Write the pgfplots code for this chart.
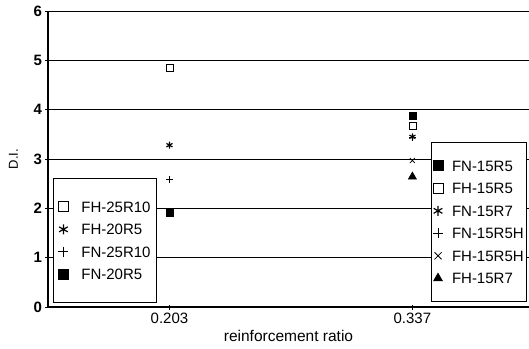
\documentclass[border=0pt]{standalone}
\usepackage{fontspec}
\setmainfont{Liberation Sans}
\usepackage{pgfplots}
\pgfplotsset{compat=1.18}
\begin{document}
\begin{tikzpicture}
\pgfplotsset{
  base/.style={
    width=481pt, height=296pt, scale only axis,
    xmin=0.5, xmax=2.48, ymin=0, ymax=6,
    clip=false,
    legend cell align=left,
  },
  lg/.style={
    draw=black, line width=0.8pt, fill=white,
    font=\fontsize{15}{17}\selectfont,
    nodes={inner sep=1pt, text height=10.5pt, text depth=0pt},
    row sep=10pt,
  },
  dm/.style={only marks, black, line width=0.8pt, mark size=3.5pt,
    legend image post style={mark size=5pt}},
}
\begin{axis}[base, name=ax,
  axis x line=bottom, axis y line=left,
  axis line style={-, line width=1.1pt},
  xtick={1,2}, xticklabels={0.203,0.337},
  ytick={0,1,2,3,4,5,6},
  ymajorgrids, grid style={black, line width=0.8pt},
  tick align=center, major tick length=5pt,
  tick style={black, line width=0.9pt},
  /pgf/number format/assume math mode=true,
  xticklabel style={font=\fontsize{15}{17}\selectfont},
  yticklabel style={font=\fontsize{15}{17}\selectfont\bfseries},
  xlabel={reinforcement ratio}, ylabel={D.I.},
  xlabel style={font=\fontsize{15.5}{17}\selectfont},
  ylabel style={font=\fontsize{13}{15}\selectfont},
  ylabel shift=9pt,
  legend style={lg, at={(0.0104,0.0135)}, anchor=south west, inner xsep=5pt, inner ysep=22pt, column sep=12pt},
]
\addplot[dm, mark=square, mark options={fill=white}] coordinates {(1,4.84)};
\addlegendentry{FH-25R10}
\addplot[dm, mark=asterisk, line width=1.2pt] coordinates {(1,3.28)};
\addlegendentry{FH-20R5}
\addplot[dm, mark=+] coordinates {(1,2.59)};
\addlegendentry{FN-25R10}
\addplot[dm, mark=square*] coordinates {(1,1.91)};
\addlegendentry{FN-20R5}
\end{axis}
\begin{axis}[base, hide axis,
  legend style={lg, at={(0.996,0.017)}, anchor=south east, inner xsep=2pt, inner ysep=17pt, column sep=8pt},
]
\addplot[dm, mark=square*] coordinates {(2,3.88)};
\addlegendentry{FN-15R5}
\addplot[dm, mark=square, mark options={fill=white}] coordinates {(2,3.68)};
\addlegendentry{FH-15R5}
\addplot[dm, mark=asterisk, line width=1.2pt] coordinates {(2,3.45)};
\addlegendentry{FN-15R7}
\addplot[dm, mark=+] coordinates {(2,3.43)};
\addlegendentry{FN-15R5H}
\addplot[dm, mark=x] coordinates {(2,2.97)};
\addlegendentry{FH-15R5H}
\addplot[dm, mark=triangle*, mark size=4.5pt] coordinates {(2,2.64)};
\addlegendentry{FH-15R7}
\end{axis}
\pgfresetboundingbox
\path ([xshift=-48pt,yshift=-41pt]ax.south west) rectangle ([yshift=11pt]ax.north east);
\end{tikzpicture}
\end{document}
